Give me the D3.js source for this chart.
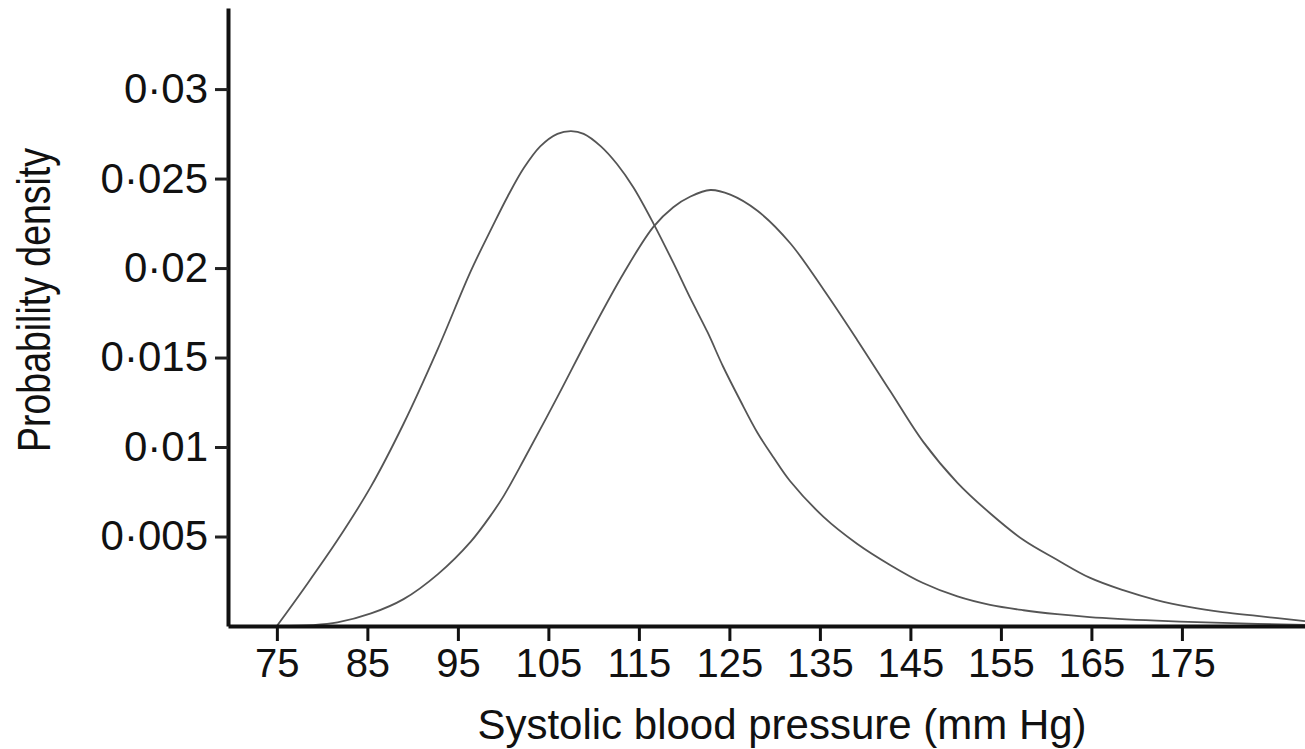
<!DOCTYPE html>
<html>
<head>
<meta charset="utf-8">
<script src="https://cdn.jsdelivr.net/npm/d3@7"></script>
<style>
  html, body { margin: 0; padding: 0; background: #fff; }
  svg { display: block; font-family: "Liberation Sans", Arial, sans-serif; }
  .axis text { fill: #111; }
  .axis-title { fill: #111; }
</style>
</head>
<body>
<div id="chart"></div>
<script>
// Values (density vs systolic BP)
const pressureA = [75, 78, 81.7, 85.4, 89, 92.8, 96.4, 98.8, 100.5, 102.3, 104.1, 106, 107.5, 108.9,
  110.8, 112.6, 114.4, 116.6, 118.8, 120.7, 122.6, 124.3, 126.2, 128.1, 129.9, 131.7, 135.4, 139.1,
  142.8, 146.4, 150.2, 153.8, 157.5, 161.2, 164.8, 172.2, 179.5, 188.6];
const densityA = [0, 0.0021, 0.0048, 0.0078, 0.0113, 0.0155, 0.0198, 0.0223, 0.0240, 0.0256, 0.0268, 0.0275, 0.02765, 0.0275,
  0.0268, 0.0258, 0.0245, 0.0225, 0.0203, 0.0183, 0.0164, 0.0145, 0.0126, 0.0108, 0.0094, 0.0081, 0.0061, 0.0046,
  0.0034, 0.0024, 0.00165, 0.00118, 0.00088, 0.00066, 0.0005, 0.0003, 0.00017, 0.00006];

const pressureB = [75, 79, 81.7, 85.4, 89, 92.8, 96.4, 98.8, 100.1, 102.3, 106, 109.7, 113.3, 116.6,
  118.8, 120.7, 122.9, 125.1, 128.1, 131.7, 135.4, 139.1, 142.8, 146.4, 150.2, 153.8, 157.5, 161.2,
  164.8, 168.5, 172.2, 175.9, 179.5, 183.3, 188.6];
const densityB = [0, 0.00005, 0.0002, 0.0007, 0.0015, 0.0029, 0.0047, 0.0063, 0.0073, 0.0093, 0.0128, 0.0164, 0.0197, 0.0223,
  0.0234, 0.0240, 0.02436, 0.0241, 0.0232, 0.0214, 0.0188, 0.0160, 0.0131, 0.0103, 0.0080, 0.0063, 0.0048, 0.0037,
  0.0027, 0.0020, 0.00145, 0.00106, 0.00078, 0.00056, 0.00027];

const xTicks = [75, 85, 95, 105, 115, 125, 135, 145, 155, 165, 175];
const yTicks = [0.005, 0.01, 0.015, 0.02, 0.025, 0.03];

const xTitle = 'Systolic blood pressure (mm Hg)';
const yTitle = 'Probability density';

class DensityPlot {
  constructor(_config) {
    this.config = {
      parentElement: _config.parentElement,
      containerWidth: 1305,
      containerHeight: 749,
      margin: { top: 8, right: 0, bottom: 123, left: 228 }
    };
    this.initVis();
  }

  initVis() {
    let vis = this;
    vis.width = vis.config.containerWidth - vis.config.margin.left - vis.config.margin.right;
    vis.height = vis.config.containerHeight - vis.config.margin.top - vis.config.margin.bottom;

    vis.xScale = d3.scaleLinear().domain([69.6, 188.6]).range([0, vis.width]);
    vis.yScale = d3.scaleLinear().domain([0, 0.03453]).range([vis.height, 0]);

    vis.svg = d3.select(vis.config.parentElement).append('svg')
      .attr('width', vis.config.containerWidth)
      .attr('height', vis.config.containerHeight);

    vis.chart = vis.svg.append('g')
      .attr('transform', `translate(${vis.config.margin.left},${vis.config.margin.top})`);

    const fmt = d3.format('.3~f');
    vis.xAxis = d3.axisBottom(vis.xScale)
      .tickValues(xTicks)
      .tickSize(15)
      .tickSizeOuter(0)
      .tickPadding(8);
    vis.yAxis = d3.axisLeft(vis.yScale)
      .tickValues(yTicks)
      .tickSize(13)
      .tickSizeOuter(0)
      .tickPadding(7)
      .tickFormat(d => fmt(d).replace('.', '·'));

    vis.renderVis();
  }

  renderVis() {
    let vis = this;

    const line = d3.line()
      .x(d => vis.xScale(d[0]))
      .y(d => vis.yScale(d[1]))
      .curve(d3.curveCatmullRom.alpha(0.5));

    const series = [d3.zip(pressureA, densityA), d3.zip(pressureB, densityB)];
    vis.chart.selectAll('.curve')
      .data(series)
      .join('path')
      .attr('class', 'curve')
      .attr('d', line)
      .attr('fill', 'none')
      .attr('stroke', '#555')
      .attr('stroke-width', 1.8);

    vis.chart.append('g')
      .attr('class', 'axis x-axis')
      .attr('transform', `translate(0,${vis.height})`)
      .call(vis.xAxis)
      .call(g => g.select('.domain').attr('stroke', '#111').attr('stroke-width', 4))
      .call(g => g.selectAll('.tick line').attr('stroke', '#111').attr('stroke-width', 3))
      .call(g => g.selectAll('.tick text').attr('font-size', 40));

    vis.chart.append('g')
      .attr('class', 'axis y-axis')
      .call(vis.yAxis)
      .call(g => g.select('.domain').attr('stroke', '#111').attr('stroke-width', 4))
      .call(g => g.selectAll('.tick line').attr('stroke', '#222').attr('stroke-width', 3))
      .call(g => g.selectAll('.tick text').attr('font-size', 42));

    vis.svg.selectAll('.axis text').attr('font-family', '"Liberation Sans", Arial, sans-serif');

    vis.svg.append('text')
      .attr('class', 'axis-title')
      .attr('x', 782)
      .attr('y', 739)
      .attr('text-anchor', 'middle')
      .attr('font-size', 42)
      .text(xTitle);

    vis.svg.append('text')
      .attr('class', 'axis-title')
      .attr('transform', 'translate(50,300) rotate(-90)')
      .attr('text-anchor', 'middle')
      .attr('font-size', 46)
      .attr('textLength', 304)
      .attr('lengthAdjust', 'spacingAndGlyphs')
      .text(yTitle);
  }
}

new DensityPlot({ parentElement: '#chart' });
</script>
</body>
</html>
